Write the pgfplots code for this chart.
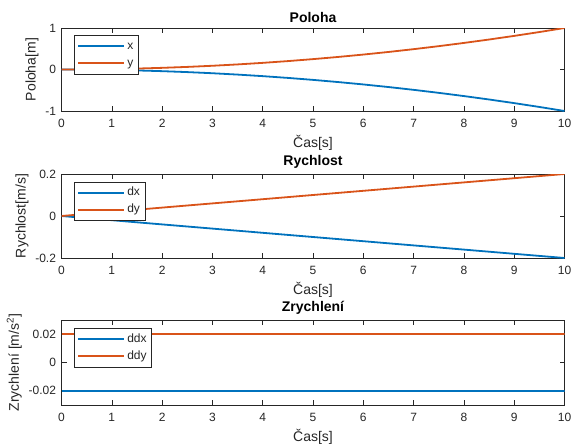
\documentclass[border=0pt]{standalone}
\usepackage{fontspec}
\setmainfont{Liberation Sans}
\usepackage{pgfplots}
\usepackage{pgfplotstable}
\pgfplotsset{compat=1.18}
\definecolor{mblue}{RGB}{0,114,189}
\definecolor{morange}{RGB}{217,83,25}
\definecolor{axgray}{gray}{0.15}

% t, x, y  (position)
\pgfplotstableread{
t    x        y
0    0        0
0.5  -0.0025  0.0025
1    -0.01    0.01
1.5  -0.0225  0.0225
2    -0.04    0.04
2.5  -0.0625  0.0625
3    -0.09    0.09
3.5  -0.1225  0.1225
4    -0.16    0.16
4.5  -0.2025  0.2025
5    -0.25    0.25
5.5  -0.3025  0.3025
6    -0.36    0.36
6.5  -0.4225  0.4225
7    -0.49    0.49
7.5  -0.5625  0.5625
8    -0.64    0.64
8.5  -0.7225  0.7225
9    -0.81    0.81
9.5  -0.9025  0.9025
10   -1       1
}\poloha
% velocity
\pgfplotstableread{
t    dx      dy
0    0       0
2    -0.04   0.04
4    -0.08   0.08
6    -0.12   0.12
8    -0.16   0.16
10   -0.2    0.2
}\rychlost
% acceleration
\pgfplotstableread{
t    ddx     ddy
0    -0.02   0.02
10   -0.02   0.02
}\zrychleni

\newcommand{\tickfont}{\fontsize{12}{14}\selectfont}
\newcommand{\labfont}{\fontsize{14}{16}\selectfont}

\pgfplotsset{
  mstyle/.style={
    scale only axis, width=503pt, height=83pt,
    xmin=0, xmax=10, xtick={0,...,10},
    scaled y ticks=false,
    axis line style={axgray, line width=0.5pt},
    tick style={axgray, line width=0.5pt},
    major tick length=5pt, tick align=inside,
    ticklabel style={font=\tickfont, text=axgray},
    xticklabel style={yshift=-5pt},
    yticklabel style={xshift=-2pt},
    title style={font=\bfseries\labfont, yshift=-4pt},
    label style={text=axgray, font=\labfont},
    /pgf/number format/assume math mode=true,
    legend cell align=left,
    legend style={at={(0.025,0.91)}, anchor=north west, draw=axgray,
                  line width=0.5pt, font=\tickfont, text=axgray,
                  inner xsep=3pt, inner ysep=2.5pt, row sep=0pt,
                  nodes={inner ysep=3.2pt, text height=1.6ex, text depth=0.4ex}},
    legend image code/.code={%
      \draw[#1,line width=2pt] (0pt,0.25pt) -- (46pt,0.25pt);},
    every axis plot/.append style={line width=1.8pt},
    xlabel={Čas[s]},
  }
}

\begin{document}
\begin{tikzpicture}
\useasboundingbox (0,0) rectangle (580pt,-447pt);
% --- Poloha ---
\begin{axis}[mstyle,
    at={(61.5pt,-28pt)}, anchor=north west,
    title={Poloha}, ylabel={Poloha[m]},
    ymin=-1, ymax=1, ytick={-1,0,1}, yticklabels={-1,0,1}]
\addplot[mblue] table[x=t, y=x] {\poloha};
\addlegendentry{x}
\addplot[morange] table[x=t, y=y] {\poloha};
\addlegendentry{y}
\end{axis}
% --- Rychlost ---
\begin{axis}[mstyle,
    at={(61.5pt,-174pt)}, anchor=north west, height=84pt,
    title={Rychlost}, ylabel={Rychlost[m/s]},
    ymin=-0.2, ymax=0.2, ytick={-0.2,0,0.2}, yticklabels={-0.2,0,0.2}]
\addplot[mblue] table[x=t, y=dx] {\rychlost};
\addlegendentry{dx}
\addplot[morange] table[x=t, y=dy] {\rychlost};
\addlegendentry{dy}
\end{axis}
% --- Zrychleni ---
\begin{axis}[mstyle,
    at={(61.5pt,-320pt)}, anchor=north west, height=85pt,
    title={Zrychlení}, ylabel={Zrychlení [m/s\textsuperscript{2}]},
    ymin=-0.03, ymax=0.03, ytick={-0.02,0,0.02}, yticklabels={-0.02,0,0.02}]
\addplot[mblue] table[x=t, y=ddx] {\zrychleni};
\addlegendentry{ddx}
\addplot[morange] table[x=t, y=ddy] {\zrychleni};
\addlegendentry{ddy}
\end{axis}
\end{tikzpicture}
\end{document}
